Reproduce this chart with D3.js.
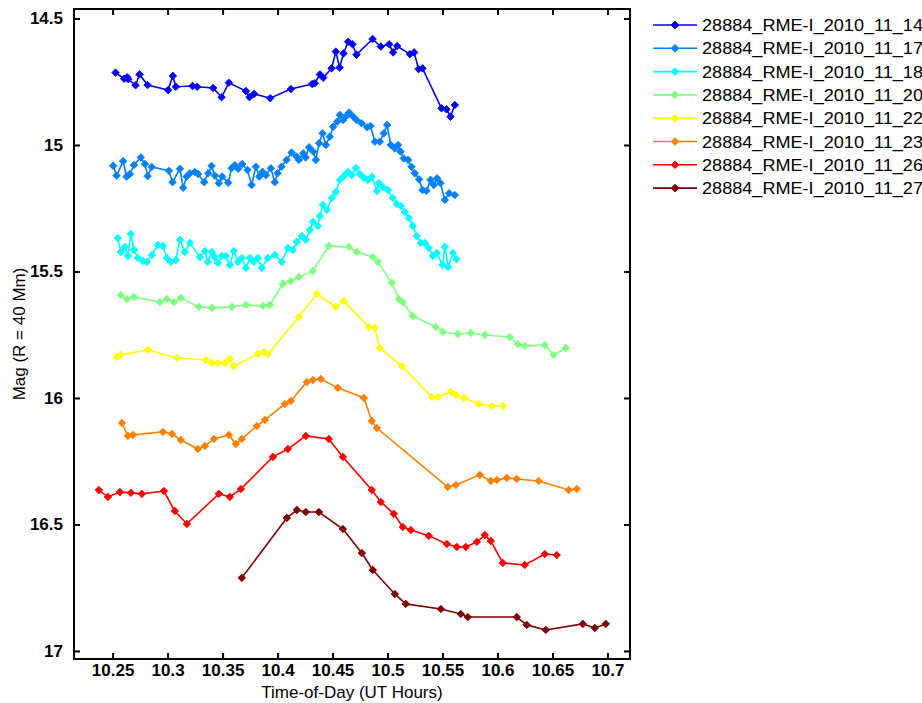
<!DOCTYPE html>
<html>
<head>
<meta charset="utf-8">
<script src="https://cdn.jsdelivr.net/npm/d3@7"></script>
<style>
  body { margin: 0; background: #fff; }
  svg { display: block; font-family: Arial, "Liberation Sans", Helvetica, sans-serif; }
</style>
</head>
<body>
<div id="chart"></div>
<script>
// time (UT hours) and magnitude for each night
const t14 = [10.2527, 10.2605, 10.2633, 10.2642, 10.2709, 10.2745, 10.2818, 10.3005, 10.3048, 10.3075, 10.3227, 10.3269, 10.3415, 10.3491, 10.3557, 10.3712, 10.3745, 10.3787, 10.3933, 10.4121, 10.4315, 10.4339, 10.4385, 10.4415, 10.4491, 10.4530, 10.4564, 10.4600, 10.4642, 10.4682, 10.4718, 10.4864, 10.4939, 10.5015, 10.5051, 10.5087, 10.5203, 10.5242, 10.5282, 10.5318, 10.5491, 10.5536, 10.5573, 10.5612];
const m14 = [14.714, 14.738, 14.732, 14.740, 14.764, 14.721, 14.763, 14.783, 14.727, 14.770, 14.767, 14.770, 14.775, 14.811, 14.754, 14.787, 14.811, 14.798, 14.815, 14.779, 14.759, 14.756, 14.721, 14.734, 14.697, 14.631, 14.694, 14.638, 14.592, 14.602, 14.643, 14.581, 14.611, 14.602, 14.634, 14.609, 14.641, 14.634, 14.700, 14.697, 14.855, 14.859, 14.888, 14.842];

const t17 = [10.2505, 10.2536, 10.2596, 10.2627, 10.2657, 10.2694, 10.2757, 10.2794, 10.2818, 10.2855, 10.3012, 10.3045, 10.3112, 10.3142, 10.3173, 10.3203, 10.3248, 10.3278, 10.3333, 10.3369, 10.3400, 10.3430, 10.3466, 10.3496, 10.3551, 10.3582, 10.3612, 10.3642, 10.3678, 10.3727, 10.3764, 10.3803, 10.3833, 10.3864, 10.3894, 10.3939, 10.3975, 10.4000, 10.4036, 10.4082, 10.4127, 10.4173, 10.4194, 10.4233, 10.4255, 10.4287, 10.4324, 10.4348, 10.4378, 10.4409, 10.4439, 10.4475, 10.4505, 10.4542, 10.4566, 10.4596, 10.4627, 10.4651, 10.4687, 10.4718, 10.4764, 10.4815, 10.4845, 10.4885, 10.4930, 10.4966, 10.4996, 10.5030, 10.5066, 10.5096, 10.5118, 10.5148, 10.5187, 10.5218, 10.5248, 10.5287, 10.5318, 10.5355, 10.5391, 10.5421, 10.5451, 10.5482, 10.5521, 10.5560, 10.5612];
const m17 = [15.082, 15.121, 15.064, 15.125, 15.115, 15.079, 15.049, 15.075, 15.123, 15.087, 15.102, 15.147, 15.094, 15.169, 15.125, 15.112, 15.107, 15.115, 15.147, 15.112, 15.083, 15.121, 15.151, 15.125, 15.149, 15.092, 15.080, 15.094, 15.075, 15.099, 15.158, 15.086, 15.125, 15.106, 15.119, 15.092, 15.147, 15.112, 15.086, 15.059, 15.030, 15.046, 15.059, 15.033, 15.049, 15.009, 15.026, 15.059, 14.993, 14.954, 15.000, 14.967, 14.928, 14.908, 14.881, 14.901, 14.885, 14.872, 14.888, 14.901, 14.914, 14.930, 14.925, 14.987, 14.987, 14.954, 14.921, 15.000, 15.013, 15.000, 15.026, 15.053, 15.059, 15.086, 15.112, 15.136, 15.178, 15.181, 15.138, 15.158, 15.132, 15.151, 15.217, 15.191, 15.198];

const t18 = [10.2548, 10.2575, 10.2612, 10.2639, 10.2666, 10.2694, 10.2730, 10.2775, 10.2812, 10.2857, 10.2912, 10.2957, 10.2994, 10.3030, 10.3075, 10.3112, 10.3157, 10.3203, 10.3294, 10.3339, 10.3366, 10.3403, 10.3430, 10.3457, 10.3494, 10.3530, 10.3566, 10.3603, 10.3639, 10.3675, 10.3712, 10.3748, 10.3785, 10.3821, 10.3857, 10.3912, 10.3975, 10.4039, 10.4094, 10.4139, 10.4175, 10.4221, 10.4257, 10.4294, 10.4321, 10.4366, 10.4385, 10.4412, 10.4448, 10.4494, 10.4530, 10.4566, 10.4603, 10.4639, 10.4675, 10.4712, 10.4748, 10.4785, 10.4821, 10.4857, 10.4903, 10.4921, 10.4957, 10.5003, 10.5048, 10.5085, 10.5121, 10.5157, 10.5194, 10.5230, 10.5266, 10.5303, 10.5339, 10.5375, 10.5412, 10.5448, 10.5500, 10.5521, 10.5551, 10.5596, 10.5627];
const m18 = [15.368, 15.423, 15.403, 15.439, 15.352, 15.415, 15.447, 15.458, 15.462, 15.435, 15.395, 15.399, 15.447, 15.462, 15.455, 15.375, 15.423, 15.387, 15.443, 15.419, 15.462, 15.423, 15.443, 15.466, 15.439, 15.439, 15.474, 15.419, 15.462, 15.447, 15.486, 15.447, 15.462, 15.447, 15.486, 15.447, 15.435, 15.462, 15.407, 15.415, 15.383, 15.360, 15.375, 15.336, 15.304, 15.320, 15.281, 15.237, 15.257, 15.209, 15.186, 15.138, 15.123, 15.107, 15.119, 15.091, 15.115, 15.130, 15.138, 15.126, 15.182, 15.150, 15.166, 15.178, 15.209, 15.233, 15.241, 15.265, 15.289, 15.320, 15.360, 15.387, 15.387, 15.407, 15.439, 15.427, 15.474, 15.403, 15.482, 15.427, 15.451];

const t20 = [10.2575, 10.2630, 10.2694, 10.2930, 10.2994, 10.3057, 10.3121, 10.3285, 10.3403, 10.3585, 10.3712, 10.3866, 10.3930, 10.4048, 10.4121, 10.4194, 10.4321, 10.4466, 10.4648, 10.4721, 10.4866, 10.4912, 10.5039, 10.5103, 10.5139, 10.5230, 10.5439, 10.5503, 10.5639, 10.5757, 10.5885, 10.6112, 10.6185, 10.6248, 10.6430, 10.6512, 10.6621];
const m20 = [15.593, 15.609, 15.601, 15.621, 15.609, 15.621, 15.605, 15.640, 15.644, 15.640, 15.632, 15.636, 15.632, 15.549, 15.538, 15.522, 15.498, 15.399, 15.403, 15.423, 15.443, 15.462, 15.545, 15.609, 15.621, 15.676, 15.719, 15.739, 15.747, 15.743, 15.751, 15.759, 15.787, 15.794, 15.791, 15.830, 15.802];

const t22 = [10.2539, 10.2575, 10.2821, 10.3085, 10.3348, 10.3403, 10.3457, 10.3521, 10.3566, 10.3603, 10.3821, 10.3875, 10.3912, 10.4194, 10.4357, 10.4530, 10.4603, 10.4830, 10.4885, 10.4930, 10.5130, 10.5403, 10.5457, 10.5575, 10.5621, 10.5694, 10.5830, 10.5948, 10.6048];
const m22 = [15.838, 15.830, 15.810, 15.842, 15.850, 15.862, 15.862, 15.862, 15.846, 15.874, 15.826, 15.818, 15.826, 15.680, 15.589, 15.640, 15.617, 15.719, 15.723, 15.802, 15.874, 15.996, 15.996, 15.976, 15.988, 16.000, 16.024, 16.032, 16.032];

const t23 = [10.2585, 10.2639, 10.2685, 10.2957, 10.3039, 10.3121, 10.3275, 10.3339, 10.3421, 10.3557, 10.3621, 10.3675, 10.3812, 10.3885, 10.4066, 10.4121, 10.4266, 10.4321, 10.4394, 10.4548, 10.4785, 10.4857, 10.4903, 10.5548, 10.5621, 10.5839, 10.5939, 10.5994, 10.6085, 10.6175, 10.6375, 10.6648, 10.6721];
const m23 = [16.099, 16.150, 16.146, 16.134, 16.142, 16.166, 16.202, 16.190, 16.162, 16.146, 16.182, 16.162, 16.111, 16.087, 16.024, 16.012, 15.937, 15.929, 15.925, 15.960, 16.000, 16.091, 16.119, 16.352, 16.344, 16.304, 16.328, 16.324, 16.316, 16.320, 16.328, 16.364, 16.360];

const t26 = [10.2375, 10.2457, 10.2566, 10.2666, 10.2766, 10.2966, 10.3066, 10.3175, 10.3466, 10.3566, 10.3666, 10.3957, 10.4094, 10.4257, 10.4466, 10.4594, 10.4857, 10.4939, 10.5057, 10.5139, 10.5212, 10.5375, 10.5539, 10.5630, 10.5712, 10.5812, 10.5885, 10.5939, 10.6048, 10.6248, 10.6430, 10.6539];
const m26 = [16.364, 16.391, 16.372, 16.375, 16.379, 16.368, 16.447, 16.498, 16.379, 16.391, 16.360, 16.233, 16.202, 16.150, 16.162, 16.233, 16.364, 16.411, 16.458, 16.510, 16.522, 16.545, 16.577, 16.589, 16.589, 16.569, 16.542, 16.565, 16.652, 16.660, 16.617, 16.621];

const t27 = [10.3675, 10.4085, 10.4176, 10.4257, 10.4376, 10.4594, 10.4766, 10.4866, 10.5066, 10.5166, 10.5485, 10.5666, 10.5730, 10.6175, 10.6266, 10.6439, 10.6776, 10.6885, 10.6985];
const m27 = [16.711, 16.474, 16.443, 16.451, 16.451, 16.518, 16.613, 16.680, 16.775, 16.814, 16.834, 16.854, 16.866, 16.866, 16.897, 16.917, 16.893, 16.909, 16.893];

const names = ['28884_RME-I_2010_11_14', '28884_RME-I_2010_11_17', '28884_RME-I_2010_11_18', '28884_RME-I_2010_11_20',
               '28884_RME-I_2010_11_22', '28884_RME-I_2010_11_23', '28884_RME-I_2010_11_26', '28884_RME-I_2010_11_27'];
const colors = ['#0000ff', '#0080ff', '#00ffff', '#80ff80', '#ffff00', '#ff8000', '#ff0000', '#800000'];
const xTicks = [10.25, 10.3, 10.35, 10.4, 10.45, 10.5, 10.55, 10.6, 10.65, 10.7];
const yTicks = [14.5, 15, 15.5, 16, 16.5, 17];

const times = [t14, t17, t18, t20, t22, t23, t26, t27];
const mags = [m14, m17, m18, m20, m22, m23, m26, m27];
const series = names.map((name, i) => ({
  name,
  color: colors[i],
  points: times[i].map((t, j) => ({ t, m: mags[i][j] }))
}));

const width = 922, height = 703;
const margin = { top: 9, right: 292, bottom: 44, left: 74 };
const plotW = width - margin.left - margin.right;
const plotH = height - margin.top - margin.bottom;

const svg = d3.select('#chart').append('svg')
  .attr('width', width)
  .attr('height', height);

const x = d3.scaleLinear().domain([10.2149, 10.7205]).range([0, plotW]);
const y = d3.scaleLinear().domain([14.4625, 17.0318]).range([0, plotH]);

const g = svg.append('g').attr('transform', `translate(${margin.left},${margin.top})`);

const diamond = r => `M0,${-r}L${r},0L0,${r}L${-r},0Z`;
const line = d3.line().x(d => x(d.t)).y(d => y(d.m));

series.forEach(s => {
  g.append('path')
    .datum(s.points)
    .attr('fill', 'none')
    .attr('stroke', s.color)
    .attr('stroke-width', 1.6)
    .attr('d', line);
  g.selectAll(null)
    .data(s.points)
    .join('path')
    .attr('transform', d => `translate(${x(d.t)},${y(d.m)})`)
    .attr('d', diamond(3.8))
    .attr('fill', s.color)
    .attr('stroke', s.color)
    .attr('stroke-width', 0.8);
});

// axes with inward ticks on all four sides
const tickLen = 6;
const fmt = d => String(d);
g.append('g')
  .attr('transform', `translate(0,${plotH})`)
  .call(d3.axisBottom(x).tickValues(xTicks).tickSize(-tickLen).tickPadding(5).tickFormat(fmt));
g.append('g')
  .call(d3.axisTop(x).tickValues(xTicks).tickSize(-tickLen).tickFormat(''));
g.append('g')
  .call(d3.axisLeft(y).tickValues(yTicks).tickSize(-tickLen).tickPadding(11).tickFormat(fmt));
g.append('g')
  .attr('transform', `translate(${plotW},0)`)
  .call(d3.axisRight(y).tickValues(yTicks).tickSize(-tickLen).tickFormat(''));

g.selectAll('.domain').remove();
g.selectAll('.tick line').attr('stroke', '#000').attr('stroke-width', 2);
g.selectAll('.tick text')
  .attr('fill', '#000')
  .style('font-size', '17px')
  .style('font-weight', 'bold')
  .style('font-family', 'Arial, "Liberation Sans", Helvetica, sans-serif');

g.append('rect')
  .attr('width', plotW)
  .attr('height', plotH)
  .attr('fill', 'none')
  .attr('stroke', '#000')
  .attr('stroke-width', 2);

svg.append('text')
  .attr('x', margin.left + plotW / 2)
  .attr('y', 698)
  .attr('text-anchor', 'middle')
  .style('font-size', '17px')
  .text('Time-of-Day (UT Hours)');

svg.append('text')
  .attr('transform', `translate(25,${margin.top + plotH / 2}) rotate(-90)`)
  .attr('text-anchor', 'middle')
  .style('font-size', '17px')
  .text('Mag (R = 40 Mm)');

// legend, clipped by the page edge like the original
const legend = svg.append('g').attr('transform', 'translate(653,25)');
const item = legend.selectAll('g')
  .data(series)
  .join('g')
  .attr('transform', (d, i) => `translate(0,${i * 23.3})`);
item.append('line')
  .attr('x1', 0).attr('x2', 44)
  .attr('stroke', d => d.color)
  .attr('stroke-width', 1.6);
item.append('path')
  .attr('transform', 'translate(22,0)')
  .attr('d', diamond(3.8))
  .attr('fill', d => d.color)
  .attr('stroke', d => d.color);
item.append('text')
  .attr('x', 49)
  .attr('dy', '0.36em')
  .attr('textLength', 221)
  .attr('lengthAdjust', 'spacingAndGlyphs')
  .style('font-size', '17px')
  .text(d => d.name);
</script>
</body>
</html>
